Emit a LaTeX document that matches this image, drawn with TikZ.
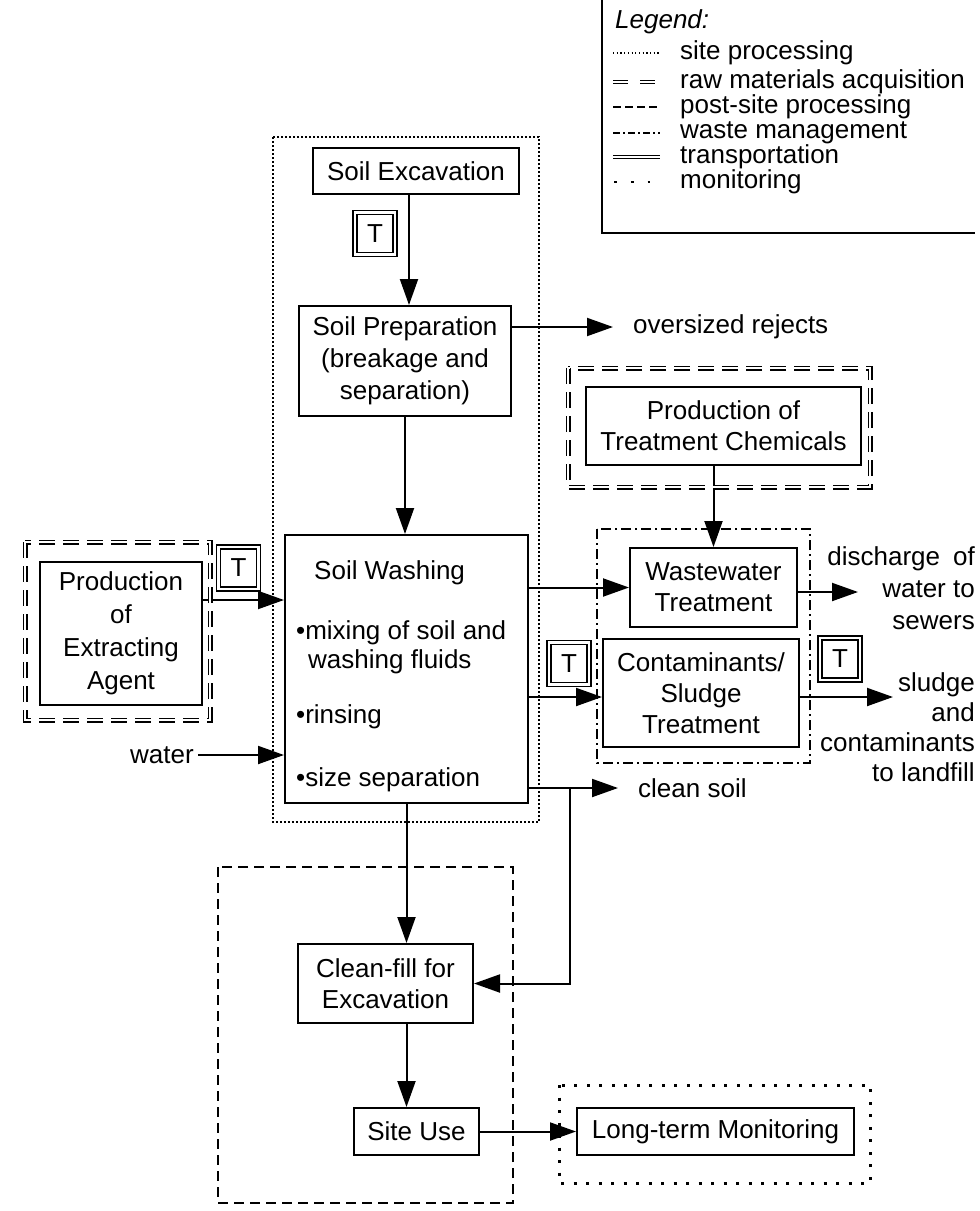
\documentclass[tikz,border=0pt]{standalone}
\usepackage{fontspec}
\setmainfont{Liberation Sans}
\usetikzlibrary{arrows.meta}
\begin{document}
\begin{tikzpicture}[x=1pt,y=-1pt,
  every node/.style={font=\fontsize{26}{31}\selectfont},
  procbox/.style={draw, line width=2pt, align=center, inner sep=0pt},
  tbox/.style={draw, line width=1.3pt, double, double distance=2.6pt,
    minimum width=40pt, minimum height=42pt, inner sep=0pt},
  arr/.style={line width=2pt, -{Triangle[length=26pt,width=18pt]}},
  plain/.style={line width=2pt},
  lbl/.style={inner sep=0pt},
  siteproc/.style={line width=1.8pt, dash pattern=on 1.8pt off 2.2pt},
  rawmat/.style={line width=1.3pt, double, double distance=2.4pt, dash pattern=on 16pt off 8pt},
  postsite/.style={line width=2pt, dash pattern=on 10pt off 6pt},
  waste/.style={line width=1.7pt, dash pattern=on 10pt off 4pt on 2pt off 4pt},
  monitor/.style={line width=3pt, dash pattern=on 3pt off 9.5pt},
]
\useasboundingbox (0,0) rectangle (980,1211);

% legend
\draw[plain] (602,0) -- (602,233) -- (975,233);
\node[lbl, anchor=west, font=\itshape\fontsize{26}{31}\selectfont] (legt) at (615,22) {Legend:};
\node[lbl, anchor=west] (l1) at (680,53) {site processing};
\node[lbl, anchor=west] (l2) at (680,82) {raw materials acquisition};
\node[lbl, anchor=west] (l3) at (680,107) {post-site processing};
\node[lbl, anchor=west] (l4) at (680,133) {waste management};
\node[lbl, anchor=west] (l5) at (680,157) {transportation};
\node[lbl, anchor=west] (l6) at (680,182) {monitoring};
\draw[line width=1.2pt, dash pattern=on 1.2pt off 2.5pt] ([xshift=-67pt]l1.west) -- ([xshift=-20pt]l1.west);
\draw[line width=1.2pt, double, double distance=2.4pt, dash pattern=on 15pt off 12pt] ([xshift=-67pt]l2.west) -- ([xshift=-23pt]l2.west);
\draw[line width=1.8pt, dash pattern=on 8pt off 4pt] ([xshift=-67pt]l3.west) -- ([xshift=-20pt]l3.west);
\draw[line width=1.8pt, dash pattern=on 7pt off 3pt on 2pt off 3pt] ([xshift=-67pt]l4.west) -- ([xshift=-20pt]l4.west);
\draw[line width=1.3pt, double, double distance=2.2pt] ([xshift=-67pt]l5.west) -- ([xshift=-20pt]l5.west);
\draw[line width=2.8pt, dash pattern=on 2.8pt off 14pt] ([xshift=-66pt]l6.west) -- ([xshift=-20pt]l6.west);

% process boxes
\node[procbox, minimum width=206pt, minimum height=46pt] (exc) at (416,171) {Soil Excavation};
\node[procbox, minimum width=212pt, minimum height=110pt, font=\fontsize{26}{32}\selectfont] (prep) at (405,361) {Soil Preparation\\(breakage and\\separation)};
\node[procbox, minimum width=243pt, minimum height=268pt] (sw) at (406.5,669) {};
\node[lbl, anchor=north west, align=left, font=\fontsize{26}{29}\selectfont] (swtext) at (296,560)
  {\hspace*{18pt}Soil Washing\\[31pt]•mixing of soil and\\\hspace*{12pt}washing fluids\\[26pt]•rinsing\\[34pt]•size separation};
\node[procbox, minimum width=175pt, minimum height=79pt] (cf) at (385.5,983.5) {Clean-fill for\\Excavation};
\node[procbox, minimum width=125pt, minimum height=47pt] (su) at (416.5,1131.5) {Site Use};
\node[procbox, minimum width=277pt, minimum height=47pt] (ltm) at (715.5,1131.5) {Long-term Monitoring};
\node[procbox, minimum width=167pt, minimum height=79pt] (ww) at (713.5,587.5) {Wastewater\\Treatment};
\node[procbox, minimum width=196pt, minimum height=108pt] (cs) at (701,693) {Contaminants/\\Sludge\\Treatment};
\node[procbox, minimum width=275pt, minimum height=78pt] (tc) at (723.5,426) {Production of\\Treatment Chemicals};
\node[procbox, minimum width=162pt, minimum height=143pt, font=\fontsize{26}{33}\selectfont] (pea) at (121,633.5) {Production\\of\\Extracting\\Agent};

% transportation marks
\node[tbox] (t1) at (375,233.5) {T};
\node[tbox] (t2) at (238.5,568) {T};
\node[tbox] (t3) at (569,663.5) {T};
\node[tbox] (t4) at (840,659) {T};

% free labels
\node[lbl, anchor=west] (over) at (633,327) {oversized rejects};
\node[lbl, anchor=east, align=right, font=\fontsize{26}{32}\selectfont] (disch) at (975,588) {discharge\hspace{0.5em}of\\water to\\sewers};
\node[lbl, anchor=east, align=right, font=\fontsize{26}{30}\selectfont] (sludge) at (975,727) {sludge\\and\\contaminants\\to landfill};
\node[lbl, anchor=west] (clean) at (638,788) {clean soil};
\node[lbl, anchor=east] (water) at (194,755) {water};

\coordinate (ovend) at (613,327);
\coordinate (disend) at (858,592);
\coordinate (slend) at (893,697);
\coordinate (csend) at (618,788);
\coordinate (br) at (570,788);

% connectors
\draw[arr] ([xshift=-7pt]exc.south) -- ([xshift=-7pt]exc.south |- prep.north);
\draw[arr] (prep.east |- ovend) -- (ovend);
\draw[arr] (prep.south) -- (prep.south |- sw.north);
\draw[arr] ([yshift=33.5pt]pea.east) -- ([yshift=33.5pt]pea.east -| sw.west);
\draw[arr] ([xshift=4pt]water.east) -- (water.east -| sw.west);
\draw[arr] (sw.east |- ww.west) -- (ww.west);
\draw[arr] (sw.east |- slend) -- (cs.west |- slend);
\draw[arr] (sw.east |- csend) -- (csend);
\draw[arr] (br) |- (cf.east);
\draw[arr] (ww.north |- tc.south) -- (ww.north);
\draw[arr] (ww.east |- disend) -- (disend);
\draw[arr] (cs.east |- slend) -- (slend);
\draw[arr] (sw.south) -- (sw.south |- cf.north);
\draw[arr] (sw.south |- cf.south) -- (sw.south |- su.north);
\draw[arr] (su.east) -- (ltm.west);

% life-cycle stage outlines
\draw[siteproc] (273,137) rectangle (539,822);
\draw[rawmat] (25,542) rectangle (210,720);
\draw[rawmat] (568,368) rectangle (870,487);
\draw[waste] (597,529) rectangle (810,763);
\draw[postsite] (218,867) rectangle (513,1203);
\draw[monitor] (559,1085) rectangle (870,1183);
\end{tikzpicture}
\end{document}
